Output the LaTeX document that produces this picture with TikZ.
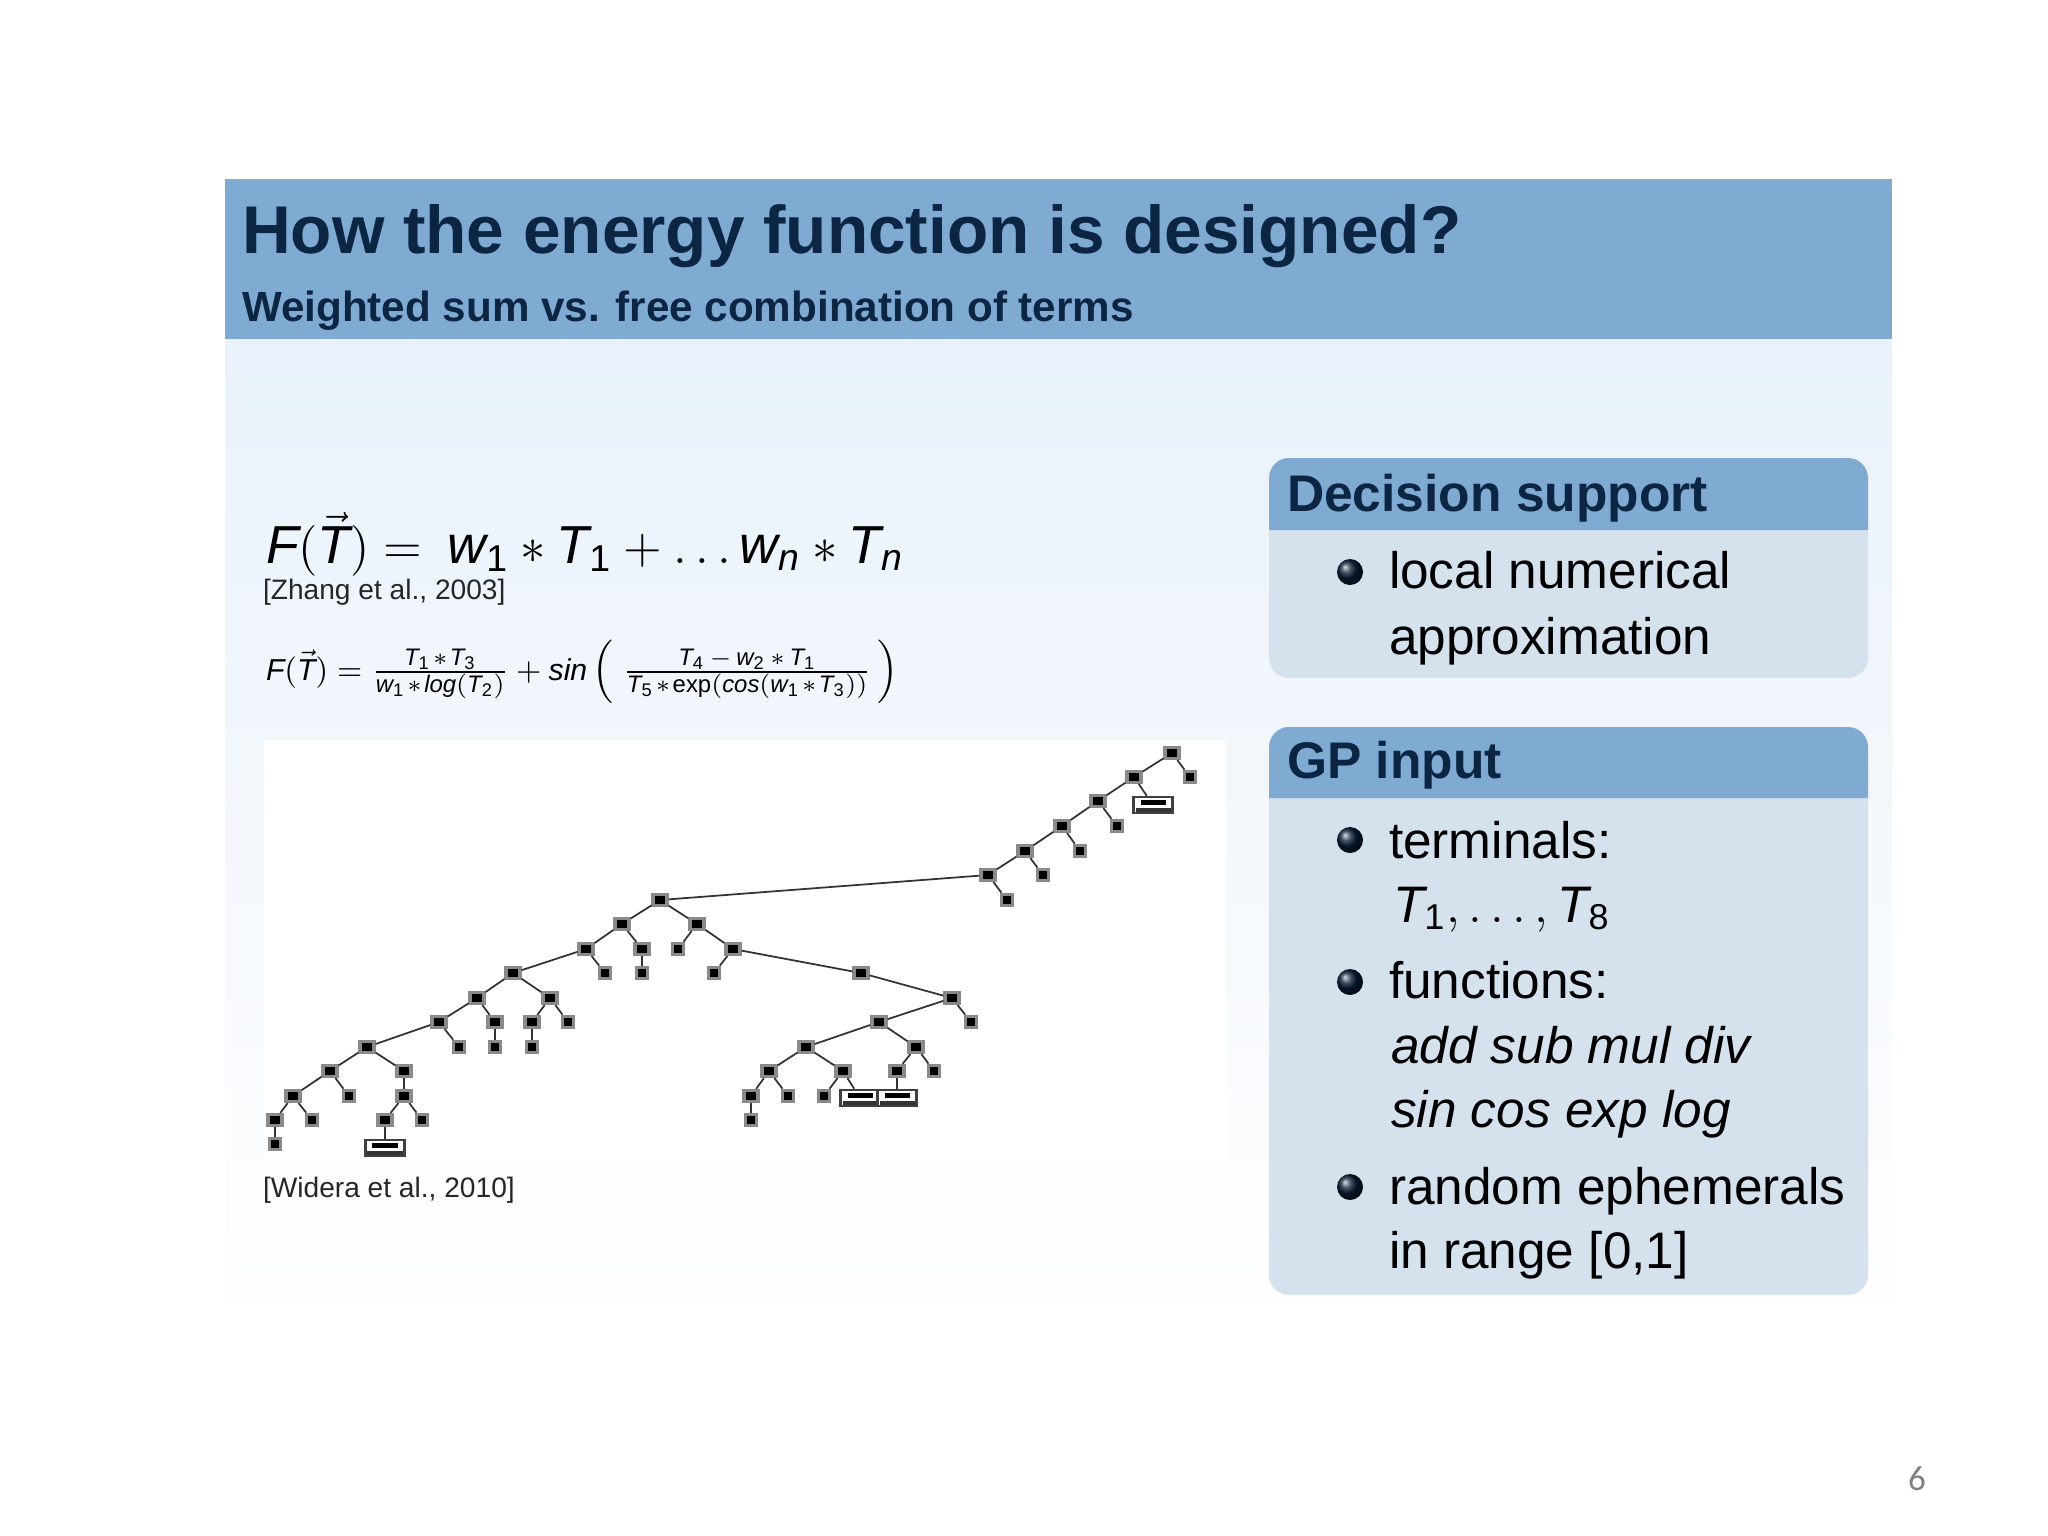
\documentclass[tikz,border=0pt]{standalone}
\usepackage{fontspec}
\setmainfont{Liberation Sans}
\newfontfamily\pagefont{Carlito}
\usetikzlibrary{positioning,arrows.meta,shadings}
\definecolor{SlideBar}{HTML}{7FAAD2}
\definecolor{SlideInk}{HTML}{0B2542}
\definecolor{SlideBody}{HTML}{D5E2EE}
\definecolor{SlideFade}{HTML}{E9F1FA}
\definecolor{NodeGray}{HTML}{8A8A8A}
\DeclareMathSizes{8.6}{8.6}{6.8}{5.2}
\newcommand{\fsz}[1]{\fontsize{#1}{#1}\selectfont}
\newcommand{\mvT}[1]{\mathit{T}_{\mathrm{#1}}}
\newcommand{\mvw}[1]{\mathit{w}_{\mathrm{#1}}}
\newcommand{\mstar}{\mkern1.5mu*\mkern1.5mu}

\begin{document}
\begin{tikzpicture}[
  x=0.01cm, y=-0.01cm,
  txt/.style={anchor=base west, inner sep=0pt, outer sep=0pt},
  blocktxt/.style={txt, text=black, font=\fsz{14.6}},
  blockhead/.style={txt, text=SlideInk, font=\fsz{14.65}\bfseries},
  ref/.style={txt, text=black!85, font=\fsz{8}},
  bullet/.style={circle, inner sep=0pt, minimum size=0.26cm, shading=ball, ball color=SlideInk!80!black},
  inner/.style={rectangle, draw=NodeGray, line width=0.9pt, fill=black, inner sep=0pt, minimum width=0.14cm, minimum height=0.11cm},
  leaf/.style={inner, minimum width=0.115cm, minimum height=0.115cm},
  widebox/.style={rectangle, draw=black!75, line width=0.7pt, fill=white, inner sep=0pt, minimum width=0.39cm, minimum height=0.16cm,
    path picture={
      \fill[black] ([xshift=0.07cm,yshift=-0.025cm]path picture bounding box.north west) rectangle ([xshift=-0.07cm,yshift=-0.08cm]path picture bounding box.north east);
      \fill[black!80] ([xshift=0.02cm,yshift=0.015cm]path picture bounding box.south west) rectangle ([xshift=-0.02cm,yshift=0.05cm]path picture bounding box.south east);
    }},
  edge line/.style={black!80, line width=0.5pt}
]
\useasboundingbox (0,0) rectangle (2048,1536);
\fill[white] (0,0) rectangle (2048,1536);

% slide background and title bar
\shade[top color=SlideFade, bottom color=white] (225,339) rectangle (1892,1340);
\fill[SlideBar] (225,179) rectangle (1892,339);
\node[txt, text=SlideInk, font=\fsz{19.2}\bfseries] (title) at (242,253) {How the energy function is designed?};
\node[txt, text=SlideInk, font=\fsz{12}\bfseries, below=0pt of title.base west, anchor=base west, yshift=-0.68cm] (subtitle) {Weighted sum vs. free combination of terms};

% formulas
\node[txt, font=\fsz{15.2}] (formula) at (266,563) {$\mathit{F}\mathrm{(}\vec{\mathit{T}}\mathrm{)} = \mkern4mu \mvw{1} * \mvT{1} + \ldots \mathit{w}_{\mathit{n}} * \mathit{T}_{\mathit{n}}$};
\node[ref] (zhang) at (263,599) {[Zhang et al., 2003]};
\node[txt, font=\fsz{8.6}] (formulafree) at (266,680) {$\mathit{F}\mathrm{(}\vec{\mathit{T}}\mathrm{)} = \frac{\mvT{1} \mstar \mvT{3}}{\mvw{1} \mstar \mathit{log}\mathrm{(}\mvT{2}\mathrm{)}} + \mathit{sin}\left(\;\frac{\mvT{4} \,-\, \mvw{2} \,*\, \mvT{1}}{\mvT{5} \mstar \mathrm{exp}\mathrm{(}\mathit{cos}\mathrm{(}\mvw{1} \mstar \mvT{3}\mathrm{))}}\,\right)$};

% tree panel
\fill[white] (264,740) rectangle (1226,1163);
\foreach \nm/\xx/\yy in {r/660/900, a1/622/924, a2/697/924, b1/586/949, b2/642/949, b4/733/949, d/513/973,
    e1/477/998, e2/550/998, f1/439/1022, f2/495/1022, f3/532/1022, g1/367/1047, h1/330/1071, h2/404/1071,
    i1/293/1096, i3/404/1096, j1/275/1120, j3/385/1120,
    u1/1172/753, u2/1134/777, u4/1098/801, u5/1062/826, u7/1025/851, u9/988/875,
    m1/861/973, m2/952/998, m3/879/1022, m5/806/1047, m6/916/1047, m7/769/1071, m8/843/1071, m9/897/1071, m11/751/1096}
  \node[inner] (\nm) at (\xx,\yy) {};
\foreach \nm/\xx/\yy in {b3/678/949, c1/605/973, c2/642/973, c3/714/973, f4/568/1022, g2/459/1047, g3/495/1047, g4/532/1047,
    i2/349/1096, j2/312/1120, j4/422/1120, k1/275/1144,
    u3/1190/777, u6/1117/826, u8/1080/851, u10/1043/875, u11/1007/900,
    m4/971/1022, m10/934/1071, m12/788/1096, m13/824/1096, m14/751/1120}
  \node[leaf] (\nm) at (\xx,\yy) {};
\foreach \nm/\xx/\yy in {k2/385/1148, ub/1153/805, mb1/860/1098, mb2/897/1098}
  \node[widebox] (\nm) at (\xx,\yy) {};
\foreach \aa/\bb in {r/a1, r/a2, a1/b1, a1/b2, a2/b3, a2/b4, b1/c1, b2/c2, b4/c3, b1/d, d/e1, d/e2, e1/f1, e1/f2, e2/f3, e2/f4,
    f1/g2, f2/g3, f3/g4, f1/g1, g1/h1, g1/h2, h1/i1, h1/i2, h2/i3, i1/j1, i1/j2, i3/j3, i3/j4, j1/k1, j3/k2,
    u1/u2, u1/u3, u2/u4, u2/ub, u4/u5, u4/u6, u5/u7, u5/u8, u7/u9, u7/u10, u9/u11, u9/r,
    b4/m1, m1/m2, m2/m3, m2/m4, m3/m5, m3/m6, m5/m7, m5/m8, m6/m9, m6/m10, m7/m11, m7/m12, m11/m14, m8/m13, m8/mb1, m9/mb2}
  \draw[edge line] (\aa) -- (\bb);
\node[ref] (widera) at (263,1197) {[Widera et al., 2010]};

% decision support block
\fill[SlideBody, rounded corners=0.2cm] (1269,500) rectangle (1868,678);
\fill[SlideBar] (1269,530) [rounded corners=0.2cm] -- (1269,458) -- (1868,458) [sharp corners] -- (1868,530) -- cycle;
\node[blockhead] (dshead) at (1287,511) {Decision support};
\node[bullet] (dsbullet) at (1350,572) {};
\node[blocktxt] (dslocal) at (1389,588) {local numerical};
\node[blocktxt] (dsapprox) at (1389,654) {approximation};

% gp input block
\fill[SlideBody, rounded corners=0.2cm] (1269,770) rectangle (1868,1295);
\fill[SlideBar] (1269,798) [rounded corners=0.2cm] -- (1269,727) -- (1868,727) [sharp corners] -- (1868,798) -- cycle;
\node[blockhead] (gphead) at (1287,778) {GP input};
\node[bullet] (gpbulleta) at (1350,840) {};
\node[blocktxt] (gpterm) at (1389,858) {terminals:};
\node[blocktxt] (gprange) at (1393,922) {$\mvT{1}, \ldots, \mvT{8}$};
\node[bullet] (gpbulletb) at (1350,982) {};
\node[blocktxt] (gpfunc) at (1389,998) {functions:};
\node[blocktxt, font=\fsz{14.6}\itshape] (gpadd) at (1391,1063) {add sub mul div};
\node[blocktxt, font=\fsz{14.6}\itshape] (gpsin) at (1391,1127) {sin cos exp log};
\node[bullet] (gpbulletc) at (1350,1187) {};
\node[blocktxt] (gprandom) at (1389,1204) {random ephemerals};
\node[blocktxt] (gpin) at (1389,1268) {in range [0,1]};

% page number
\node[txt, text=black!50, font=\pagefont\fsz{10}] (pagenum) at (1908,1490) {6};
\end{tikzpicture}
\end{document}
